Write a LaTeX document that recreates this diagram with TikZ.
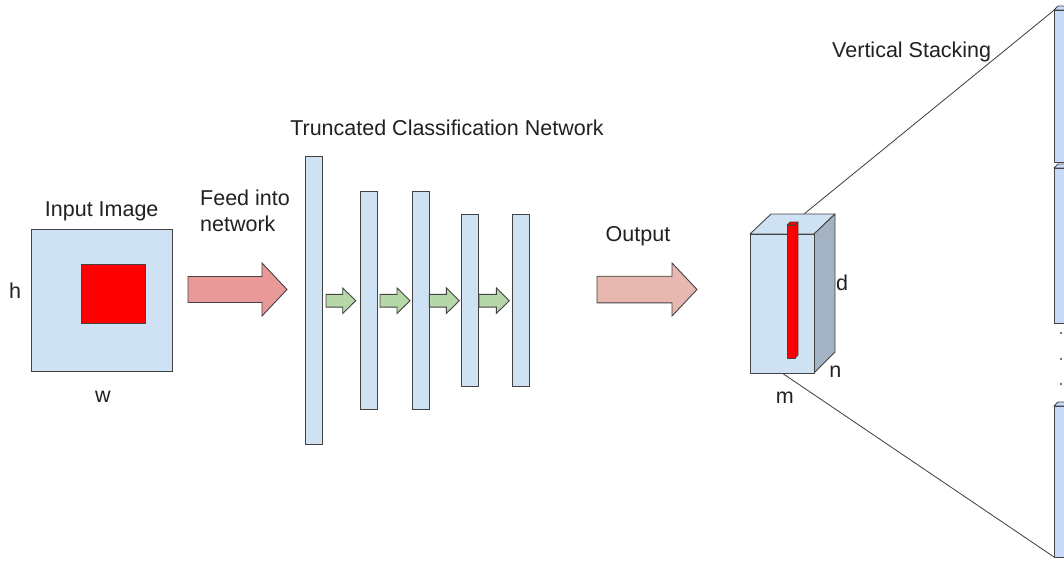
\documentclass[tikz,border=0pt]{standalone}
\usepackage{fontspec}
\setmainfont{Liberation Sans}
\definecolor{boxblue}{RGB}{207,226,243}
\definecolor{stackblue}{RGB}{201,218,248}
\definecolor{cubeside}{RGB}{163,179,195}
\definecolor{outl}{RGB}{67,67,67}
\definecolor{bigarrow}{RGB}{234,153,153}
\definecolor{outarrow}{RGB}{230,184,175}
\definecolor{greenarrow}{RGB}{182,215,168}
\definecolor{txt}{RGB}{33,33,33}
\newcommand{\blockarrow}[7]{%
  \draw[#7] (#1,#4-#5) -- (#2,#4-#5) -- (#2,#4-#6) -- (#3,#4) -- (#2,#4+#6) -- (#2,#4+#5) -- (#1,#4+#5) -- cycle;}
\begin{document}
\begin{tikzpicture}[x=1pt,y=-1pt,
  lbl/.style={font=\fontsize{21.5}{26}\selectfont, inner sep=0pt, anchor=base, text=txt},
  bar/.style={draw=outl, fill=boxblue, line width=0.9pt, inner sep=0pt, anchor=north west},
  shape3d/.style={draw=outl, line width=0.9pt, line join=round},
  conn/.style={draw=outl!90!black, line width=0.8pt},
  arr/.style={draw=outl, line width=0.9pt, line join=miter}]
\useasboundingbox (0,0) rectangle (1064,563);
\fill[white] (0,0) rectangle (1064,563);

% input image
\node[bar, minimum width=141pt, minimum height=142pt] (img) at (31,229) {};
\node[draw=outl, fill=red, line width=0.9pt, inner sep=0pt, anchor=north west,
      minimum width=64pt, minimum height=59pt] (patch) at (81,264) {};
\node[lbl] (tin) at (101.7,216) {Input Image};
\node[lbl] (th) at (15,298.3) {h};
\node[lbl] (tw) at (103,402.7) {w};

% feed arrow
\blockarrow{188}{262}{287}{289.5}{13}{26.5}{arr, fill=bigarrow}
\node[lbl, anchor=base west] (tfeed) at (200,205.7) {Feed into};
\node[lbl, anchor=base west] (tnet) at (200,231.7) {network};

% network bars
\node[bar, minimum width=17pt, minimum height=288pt] (b1) at (305,156) {};
\node[bar, minimum width=17pt, minimum height=218pt] (b2) at (360,191) {};
\node[bar, minimum width=17pt, minimum height=218pt] (b3) at (411.5,191) {};
\node[bar, minimum width=17pt, minimum height=172pt] (b4) at (460.5,214) {};
\node[bar, minimum width=17pt, minimum height=172pt] (b5) at (512,214) {};
\node[lbl] (ttcn) at (447,135) {Truncated Classification Network};

\blockarrow{326}{342.7}{355.7}{300.7}{6.4}{12.8}{arr, fill=greenarrow}
\blockarrow{380}{397}{410}{300.7}{6.4}{12.8}{arr, fill=greenarrow}
\blockarrow{429.3}{446.3}{459.3}{300.7}{6.4}{12.8}{arr, fill=greenarrow}
\blockarrow{479}{496.3}{509.3}{300.7}{6.4}{12.8}{arr, fill=greenarrow}

% output arrow
\blockarrow{597}{672}{697}{289.5}{13.3}{26.5}{arr, fill=outarrow}
\node[lbl] (tout) at (638,241) {Output};

% connectors to stack
\coordinate (ctop) at (804,214);
\coordinate (cbot) at (782,373);
\coordinate (stop) at (1058,7);
\coordinate (sbot) at (1054,557);
\draw[conn] (ctop) -- (stop);
\draw[conn] (cbot) -- (sbot);

% cube
\draw[shape3d, fill=boxblue] (750,234) -- (771,214) -- (835,214) -- (814,234) -- cycle;
\draw[shape3d, fill=cubeside] (814,234) -- (835,214) -- (835,352) -- (814,373) -- cycle;
\draw[shape3d, fill=boxblue] (750,234) rectangle (814,373);
% red column
\draw[shape3d, fill=red, line width=0.7pt] (787,225) -- (790,222) -- (798,222) -- (795,225) -- cycle;
\draw[shape3d, fill=red, line width=0.7pt] (795,225) -- (798,222) -- (798,355) -- (795,358) -- cycle;
\draw[shape3d, fill=red, line width=0.7pt] (787,225) rectangle (795,358);
\node[lbl] (td) at (842,290.7) {d};
\node[lbl] (tn) at (835.3,377) {n};
\node[lbl] (tm) at (784.7,403.3) {m};
\node[lbl] (tvs) at (911.7,57.3) {Vertical Stacking};

% stacked slices
\begin{scope}
\clip (0,0) rectangle (1064,563);
\foreach \ya/\yb in {10/162, 168/323, 406/557} {
  \draw[shape3d, fill=stackblue] (1054,\ya) -- (1058,\ya-4) -- (1100,\ya-4) -- (1096,\ya) -- cycle;
  \draw[shape3d, fill=stackblue] (1054,\ya) rectangle (1096,\yb);
}
\foreach \yd in {333,359,384} \fill[outl] (1061,\yd) circle (1.2pt);
\end{scope}
\end{tikzpicture}
\end{document}
